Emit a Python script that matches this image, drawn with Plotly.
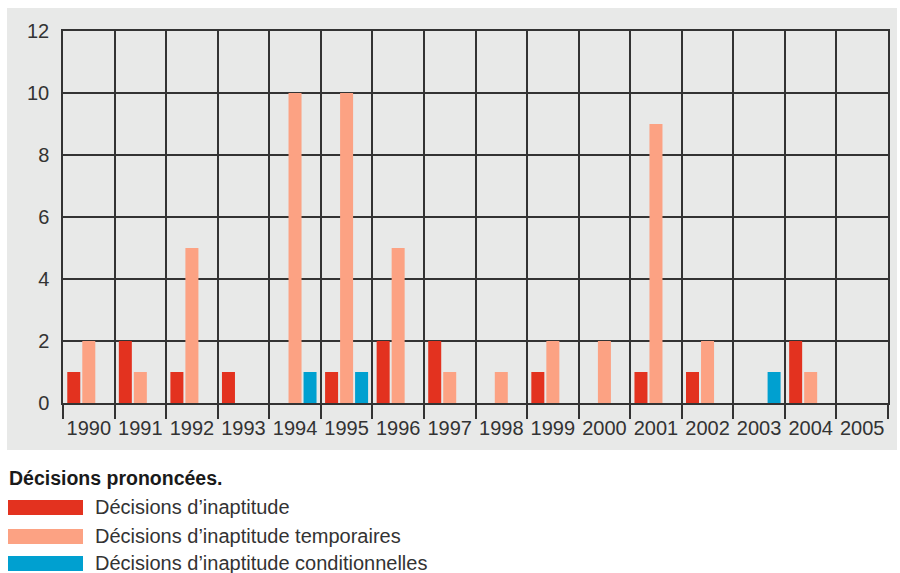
import plotly.graph_objects as go

years = ["1990", "1991", "1992", "1993", "1994", "1995", "1996", "1997",
         "1998", "1999", "2000", "2001", "2002", "2003", "2004", "2005"]
inaptitude = [1, 2, 1, 1, 0, 1, 2, 2, 0, 1, 0, 1, 1, 0, 2, 0]
temporaires = [2, 1, 5, 0, 10, 10, 5, 1, 1, 2, 2, 9, 2, 0, 1, 0]
conditionnelles = [0, 0, 0, 0, 1, 1, 0, 0, 0, 0, 0, 0, 0, 1, 0, 0]
series_names = ["Décisions d’inaptitude", "Décisions d’inaptitude temporaires",
                "Décisions d’inaptitude conditionnelles"]
colors = ["#e3321f", "#fca283", "#00a0d0"]
legend_title = "Décisions prononcées."
y_ticks = [0, 2, 4, 6, 8, 10, 12]

W, H = 900, 573
ml, mr, mt, mb = 63, 12, 31, 170
pw, ph = W - ml - mr, H - mt - mb

def px(x):
    return (x - ml) / pw

def py(y):
    return (H - mb - y) / ph

FONT = "Liberation Sans, Arial, sans-serif"

fig = go.Figure()
for name, vals, col in zip(series_names, [inaptitude, temporaires, conditionnelles], colors):
    fig.add_trace(go.Bar(x=years, y=vals, name=name, marker=dict(color=col, line=dict(width=0)),
                         showlegend=False))

grey = "#e8e9e8"
shapes = [dict(type="rect", xref="paper", yref="paper", x0=px(7), x1=px(897), y0=py(450), y1=py(8),
               fillcolor=grey, line=dict(width=0), layer="below")]
annotations = [dict(text=legend_title, xref="paper", yref="paper", x=px(7), y=py(478),
                    xanchor="left", yanchor="middle", showarrow=False,
                    font=dict(family=FONT, size=19.5, color="#1a1a1a", weight="bold"))]
swatch_y = [(500, 515, 507), (529, 544, 536), (556, 571, 563)]
for (y0, y1, yc), name, col in zip(swatch_y, series_names, colors):
    shapes.append(dict(type="rect", xref="paper", yref="paper", x0=px(8), x1=px(83), y0=py(y1), y1=py(y0),
                       fillcolor=col, line=dict(width=0)))
    annotations.append(dict(text=name, xref="paper", yref="paper", x=px(93), y=py(yc),
                            xanchor="left", yanchor="middle", showarrow=False,
                            font=dict(family=FONT, size=20, color="#333333")))

fig.update_layout(
    width=W, height=H, autosize=False,
    margin=dict(l=ml, r=mr, t=mt, b=mb, autoexpand=False),
    paper_bgcolor="white", plot_bgcolor=grey,
    barmode="group", bargap=0.127, bargroupgap=0.133,
    font=dict(family=FONT, size=20, color="#333333"),
    shapes=shapes, annotations=annotations,
    xaxis=dict(type="category", tickson="boundaries", showgrid=True, gridcolor="#333333", gridwidth=1.5,
               ticks="outside", ticklen=14, tickwidth=1.5, tickcolor="#333333", tickangle=0,
               ticklabelstandoff=6,
               showline=True, linecolor="#333333", linewidth=1.5, mirror=True,
               tickfont=dict(size=20, color="#333333")),
    yaxis=dict(range=[0, 12], tickvals=y_ticks, showgrid=True, gridcolor="#333333", gridwidth=1.5,
               zeroline=False, showline=True, linecolor="#333333", linewidth=1.5, mirror=True,
               ticks="", ticklabelstandoff=8, tickfont=dict(size=20, color="#333333")),
)

post = ("document.body.style.margin='0';document.body.style.overflow='hidden';"
        "Plotly.relayout('{plot_id}', {width: 900, height: 573});")
fig.write_html("out.html", post_script=post, config={"responsive": False, "displayModeBar": False})
